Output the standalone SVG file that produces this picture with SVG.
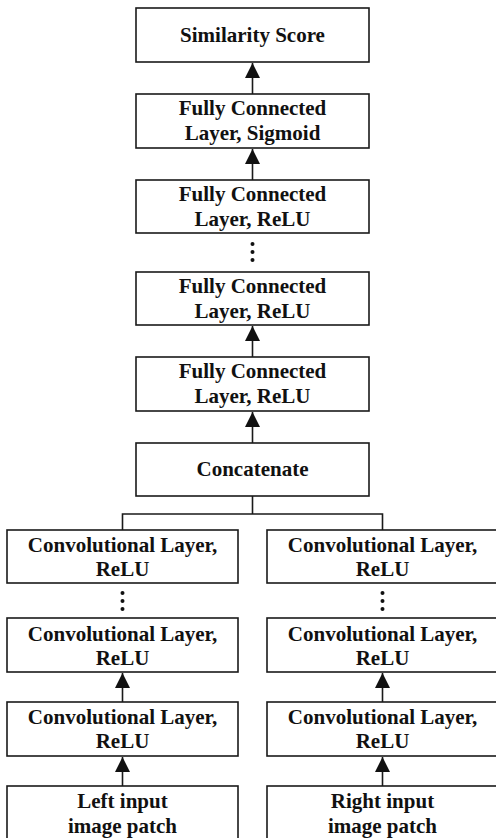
<svg xmlns="http://www.w3.org/2000/svg" width="496" height="838" viewBox="0 0 496 838">
<style>
.box{fill:#fff;stroke:#1a1a1a;stroke-width:1.6}
.t{font-family:"Liberation Serif","Times New Roman",serif;font-weight:bold;font-size:21px;fill:#111;text-anchor:middle}
.ln{stroke:#1a1a1a;stroke-width:1.6;fill:none}
.dot{fill:#111}
</style>
<defs>
<marker id="ah" markerUnits="userSpaceOnUse" markerWidth="16" markerHeight="16" refX="15" refY="7.5" orient="auto">
<polygon points="0,0 15,7.5 0,15" fill="#111"/>
</marker>
</defs>
<rect width="496" height="838" fill="#fff"/>
<g id="connectors">
<line class="ln" x1="252.5" y1="94" x2="252.5" y2="63" marker-end="url(#ah)"/>
<line class="ln" x1="252.5" y1="180" x2="252.5" y2="149" marker-end="url(#ah)"/>
<line class="ln" x1="252.5" y1="357" x2="252.5" y2="326" marker-end="url(#ah)"/>
<line class="ln" x1="252.5" y1="443" x2="252.5" y2="412" marker-end="url(#ah)"/>
<polyline class="ln" points="252.5,496 252.5,514"/>
<polyline class="ln" points="122.5,530 122.5,514 382.5,514 382.5,530"/>
<line class="ln" x1="122.5" y1="702" x2="122.5" y2="673" marker-end="url(#ah)"/>
<line class="ln" x1="122.5" y1="786" x2="122.5" y2="757" marker-end="url(#ah)"/>
<line class="ln" x1="382.5" y1="702" x2="382.5" y2="673" marker-end="url(#ah)"/>
<line class="ln" x1="382.5" y1="786" x2="382.5" y2="757" marker-end="url(#ah)"/>
<circle class="dot" cx="252.5" cy="244" r="2"/><circle class="dot" cx="252.5" cy="252" r="2"/><circle class="dot" cx="252.5" cy="260" r="2"/>
<circle class="dot" cx="122.5" cy="593" r="2"/><circle class="dot" cx="122.5" cy="601" r="2"/><circle class="dot" cx="122.5" cy="609" r="2"/>
<circle class="dot" cx="382.5" cy="593" r="2"/><circle class="dot" cx="382.5" cy="601" r="2"/><circle class="dot" cx="382.5" cy="609" r="2"/>
</g>
<g id="similarity"><rect class="box" x="136" y="8" width="233" height="54"/><text class="t" x="252.5" y="42">Similarity Score</text></g>
<g id="fc-sigmoid"><rect class="box" x="136" y="94" width="233" height="54"/><text class="t" x="252.5" y="115">Fully Connected</text><text class="t" x="252.5" y="140">Layer, Sigmoid</text></g>
<g id="fc-relu-3"><rect class="box" x="136" y="180" width="233" height="53"/><text class="t" x="252.5" y="201">Fully Connected</text><text class="t" x="252.5" y="226">Layer, ReLU</text></g>
<g id="fc-relu-2"><rect class="box" x="136" y="272" width="233" height="53"/><text class="t" x="252.5" y="293">Fully Connected</text><text class="t" x="252.5" y="318">Layer, ReLU</text></g>
<g id="fc-relu-1"><rect class="box" x="136" y="357" width="233" height="54"/><text class="t" x="252.5" y="378">Fully Connected</text><text class="t" x="252.5" y="403">Layer, ReLU</text></g>
<g id="concatenate"><rect class="box" x="136" y="443" width="233" height="53"/><text class="t" x="252.5" y="476">Concatenate</text></g>
<g id="left-conv-n"><rect class="box" x="7" y="530" width="231" height="53"/><text class="t" x="122.5" y="552">Convolutional Layer,</text><text class="t" x="122.5" y="576">ReLU</text></g>
<g id="left-conv-2"><rect class="box" x="7" y="618" width="231" height="54"/><text class="t" x="122.5" y="641">Convolutional Layer,</text><text class="t" x="122.5" y="665">ReLU</text></g>
<g id="left-conv-1"><rect class="box" x="7" y="702" width="231" height="54"/><text class="t" x="122.5" y="724">Convolutional Layer,</text><text class="t" x="122.5" y="748">ReLU</text></g>
<g id="left-input"><rect class="box" x="7" y="786" width="231" height="60"/><text class="t" x="122.5" y="808">Left input</text><text class="t" x="122.5" y="833">image patch</text></g>
<g id="right-conv-n"><rect class="box" x="267" y="530" width="231" height="53"/><text class="t" x="382.5" y="552">Convolutional Layer,</text><text class="t" x="382.5" y="576">ReLU</text></g>
<g id="right-conv-2"><rect class="box" x="267" y="618" width="231" height="54"/><text class="t" x="382.5" y="641">Convolutional Layer,</text><text class="t" x="382.5" y="665">ReLU</text></g>
<g id="right-conv-1"><rect class="box" x="267" y="702" width="231" height="54"/><text class="t" x="382.5" y="724">Convolutional Layer,</text><text class="t" x="382.5" y="748">ReLU</text></g>
<g id="right-input"><rect class="box" x="267" y="786" width="231" height="60"/><text class="t" x="382.5" y="808">Right input</text><text class="t" x="382.5" y="833">image patch</text></g>
</svg>
